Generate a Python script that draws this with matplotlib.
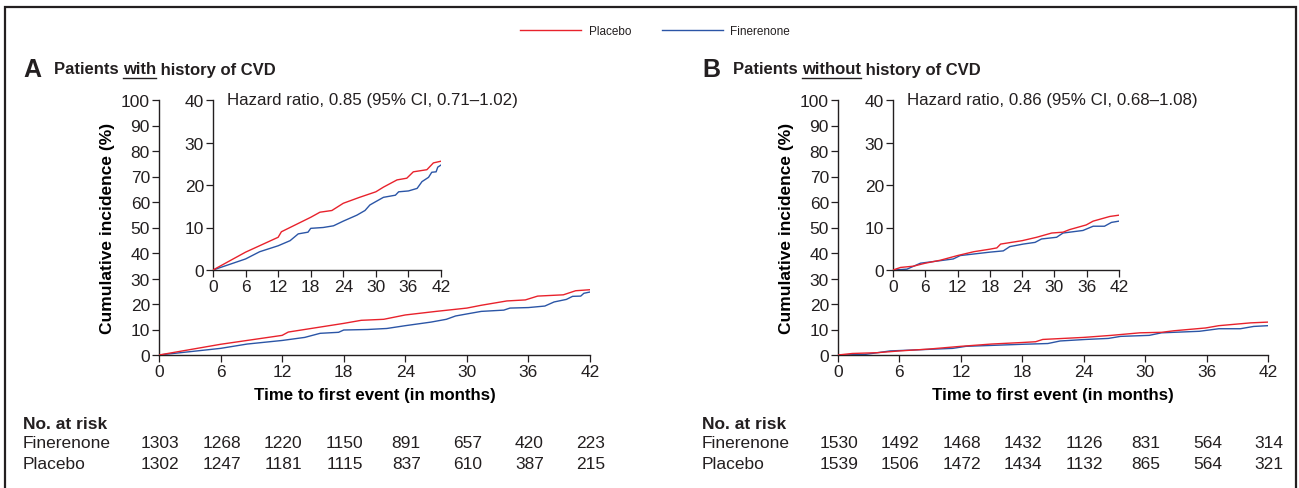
import matplotlib
matplotlib.use("Agg")
import matplotlib.pyplot as plt
from matplotlib.lines import Line2D
from matplotlib.patches import Rectangle

RED = "#e8222c"
BLUE = "#2b55a6"
INK = "#231f20"

plt.rcParams.update({
    "font.family": ["Liberation Sans", "DejaVu Sans"],
    "text.color": INK, "axes.edgecolor": INK, "xtick.color": INK,
    "ytick.color": INK, "axes.linewidth": 1.0,
})
NARROW = ["Liberation Sans Narrow", "Liberation Sans"]

# ---- data (months, cumulative incidence %) ----------------------------------
a_pla_t = [0, 6, 12, 12.6, 18, 19.7, 21.9, 24, 27, 30, 31.4, 33.9, 35.7, 36.9, 39.4, 40.6, 42]
a_pla_y = [0, 4.2, 7.7, 9.0, 12.4, 13.6, 14.0, 15.7, 17.1, 18.4, 19.5, 21.2, 21.6, 23.1, 23.6, 25.2, 25.6]
a_fin_t = [0, 3.7, 6, 8.6, 12, 14.2, 15.7, 17.5, 18, 20.3, 22.2, 24, 26.5, 28, 28.9, 30, 31.4,
           33.6, 34.2, 36, 37.6, 38.5, 39.7, 40.3, 41.1, 41.4, 42]
a_fin_y = [0, 1.6, 2.6, 4.3, 5.7, 6.9, 8.5, 8.9, 9.8, 10.0, 10.4, 11.5, 12.9, 14.0, 15.3, 16.1, 17.1,
           17.6, 18.4, 18.6, 19.2, 20.8, 21.8, 23.0, 23.1, 24.2, 24.7]

b_pla_t = [0, 1.4, 3.8, 6, 8.8, 12, 15, 18, 19.3, 20, 24, 26.7, 29.5, 31.6, 32.8, 35.9, 37.2, 40.3, 42]
b_pla_y = [0, 0.6, 0.9, 1.6, 2.3, 3.4, 4.3, 4.9, 5.2, 6.1, 6.9, 7.7, 8.7, 8.9, 9.5, 10.6, 11.5, 12.6, 12.9]
b_fin_t = [0, 2.6, 5.1, 8.8, 11.2, 12.5, 18, 20.5, 21.7, 24.2, 26.4, 27.6, 30.4, 31.6, 35.3, 37.2,
           39.3, 40.6, 42]
b_fin_y = [0, 0.2, 1.6, 2.2, 2.6, 3.4, 4.2, 4.5, 5.5, 6.1, 6.5, 7.3, 7.7, 8.7, 9.3, 10.3,
           10.3, 11.2, 11.5]

risk_months = [0, 6, 12, 18, 24, 30, 36, 42]
a_risk_fin = [1303, 1268, 1220, 1150, 891, 657, 420, 223]
a_risk_pla = [1302, 1247, 1181, 1115, 837, 610, 387, 215]
b_risk_fin = [1530, 1492, 1468, 1432, 1126, 831, 564, 314]
b_risk_pla = [1539, 1506, 1472, 1434, 1132, 865, 564, 321]

W, H = 1299, 489
fig = plt.figure(figsize=(W / 100, H / 100), dpi=100)
fig.patch.set_facecolor("white")


def fx(px):
    return px / W


def fy(py):
    return 1 - py / H


def style(ax, fs):
    for s in ("top", "right"):
        ax.spines[s].set_visible(False)
    ax.tick_params(direction="out", length=5, width=0.9, labelsize=fs, pad=1.5)
    ax.set_xlim(0, 42)
    ax.set_xticks(risk_months)


def panel(x0, x1, ix0, ix1, letter, word, pt, py, ft, fy_, hr, rfin, rpla):
    ax = fig.add_axes([fx(x0), fy(356), fx(x1 - x0), fy(101) - fy(356)])
    ax.plot(pt, py, color=RED, lw=1.0, zorder=3)
    ax.plot(ft, fy_, color=BLUE, lw=1.0, zorder=2)
    style(ax, 12.5)
    ax.set_ylim(0, 100)
    ax.set_yticks(range(0, 101, 10))
    ax.set_xlabel("Time to first event (in months)", fontsize=12.2, fontweight="bold",
                  family=NARROW, labelpad=6)
    ax.set_ylabel("Cumulative incidence (%)", fontsize=12.5, fontweight="bold",
                  family=NARROW, labelpad=4)

    ins = fig.add_axes([fx(ix0), fy(271), fx(ix1 - ix0), fy(101) - fy(271)])
    ins.patch.set_alpha(0)
    ins.plot(pt, py, color=RED, lw=1.0, zorder=3)
    ins.plot(ft, fy_, color=BLUE, lw=1.0, zorder=2)
    style(ins, 12.5)
    ins.set_ylim(0, 40)
    ins.set_yticks(range(0, 41, 10))
    ins.text(0.06, 1.0, hr, transform=ins.transAxes, fontsize=12.2, va="center", ha="left")

    # panel title with underlined word
    lx = x0 - 136
    fig.text(fx(lx), fy(70), letter, fontsize=18, fontweight="bold", va="center",
             family=NARROW)
    r = fig.canvas.get_renderer()
    t1 = fig.text(fx(lx + 31), fy(70), "Patients ", fontsize=12, fontweight="bold",
                  va="center", family=NARROW)
    bb = t1.get_window_extent(r)
    t2 = fig.text(bb.x1 / W, fy(70), word, fontsize=12, fontweight="bold",
                  va="center", family=NARROW)
    bb2 = t2.get_window_extent(r)
    fig.add_artist(Line2D([bb2.x0 / W, bb2.x1 / W], [fy(78.5)] * 2, color=INK, lw=1.0))
    fig.text(bb2.x1 / W, fy(70), " history of CVD", fontsize=12, fontweight="bold",
             va="center", family=NARROW)

    # risk table
    fig.text(fx(lx), fy(425), "No. at risk", fontsize=12.5, fontweight="bold",
             va="center", family=NARROW)
    for lab, vals, yy in (("Finerenone", rfin, 444), ("Placebo", rpla, 465)):
        fig.text(fx(lx), fy(yy), lab, fontsize=12.5, va="center")
        for m, v in zip(risk_months, vals):
            xd = ax.transData.transform((m, 0))[0] + 1
            fig.text(xd / W, fy(yy), str(v), fontsize=12.5, va="center", ha="center")
    return ax


panel(159, 590, 213, 441, "A", "with", a_pla_t, a_pla_y, a_fin_t, a_fin_y,
      "Hazard ratio, 0.85 (95% CI, 0.71\u20131.02)", a_risk_fin, a_risk_pla)
panel(838, 1268, 893, 1119, "B", "without", b_pla_t, b_pla_y, b_fin_t, b_fin_y,
      "Hazard ratio, 0.86 (95% CI, 0.68\u20131.08)", b_risk_fin, b_risk_pla)

# legend
handles = [Line2D([], [], color=RED, lw=1.0), Line2D([], [], color=BLUE, lw=1.0)]
fig.legend(handles, ["Placebo", "Finerenone"], loc="center", ncol=2,
           bbox_to_anchor=(fx(655), fy(32)), frameon=False, fontsize=8.5,
           handlelength=5.2, handletextpad=0.6, columnspacing=2.6)

# frame
fig.add_artist(Rectangle((fx(5), -0.05), fx(1291), fy(8) + 0.05, transform=fig.transFigure,
                         fill=False, edgecolor=INK, lw=1.6))

fig.savefig("out.png", dpi=100, facecolor="white")
